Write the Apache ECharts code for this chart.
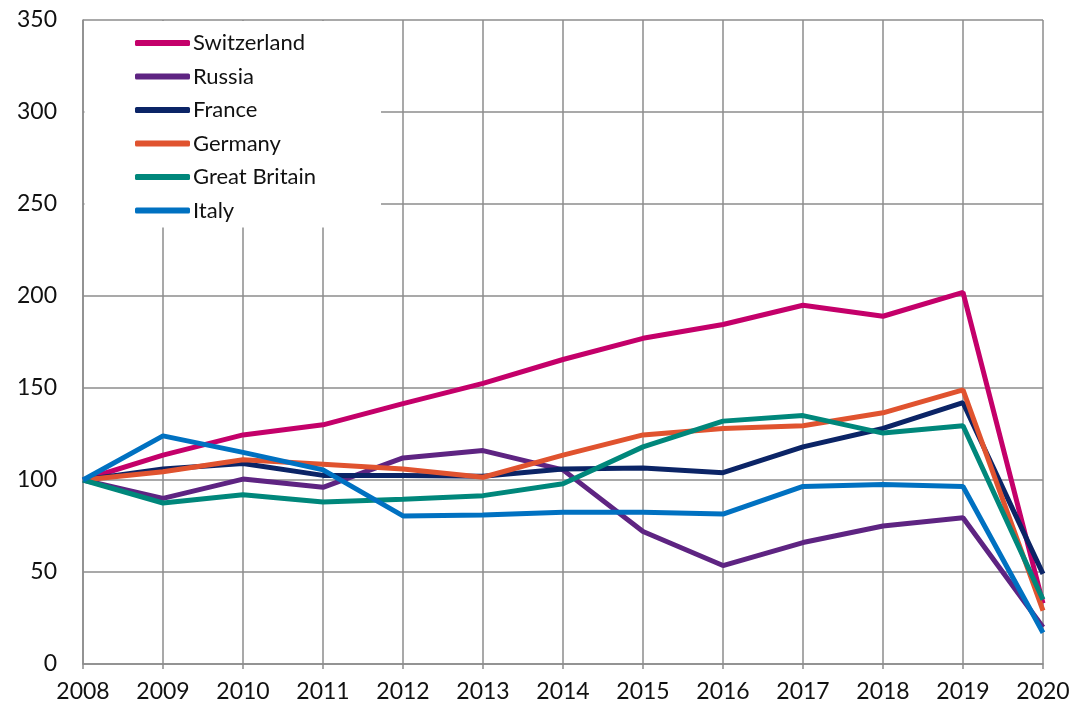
<!DOCTYPE html>
<html>
<head>
<meta charset="utf-8">
<script src="https://cdn.jsdelivr.net/npm/echarts@6/dist/echarts.min.js"></script>
<style>
html,body{margin:0;padding:0;background:#fff;}
#chart{width:1074px;height:708px;}
</style>
</head>
<body>
<div id="chart"></div>
<script>
const years = ['2008','2009','2010','2011','2012','2013','2014','2015','2016','2017','2018','2019','2020'];
const switzerland = [100, 113.5, 124.5, 130, 141.5, 152.5, 165.5, 177, 184.5, 195, 189, 202, 33];
const russia      = [100, 90, 100.5, 96, 112, 116, 105.5, 72, 53.5, 66, 75, 79.5, 20];
const france      = [100, 106, 109, 102.5, 102.5, 102, 106, 106.5, 104, 118, 128, 142, 49];
const germany     = [100, 104.5, 111, 108.5, 106, 101.5, 113.5, 124.5, 128, 129.5, 136.5, 149, 29];
const greatBritain= [100, 87.5, 92, 88, 89.5, 91.5, 98, 118, 132, 135, 125.5, 129.5, 35];
const italy       = [100, 124, 115, 105.5, 80.5, 81, 82.5, 82.5, 81.5, 96.5, 97.5, 96.5, 17];
const yTicks = [0, 50, 100, 150, 200, 250, 300, 350];

const seriesDefs = [
  {name:'Switzerland', data:switzerland, color:'#C4006A'},
  {name:'Russia', data:russia, color:'#5E2482'},
  {name:'France', data:france, color:'#0B2466'},
  {name:'Germany', data:germany, color:'#E0532F'},
  {name:'Great Britain', data:greatBritain, color:'#00877B'},
  {name:'Italy', data:italy, color:'#0071C1'}
];

const FONT = 'Lato';
const gridColor = '#8c8c8c';
const chart = echarts.init(document.getElementById('chart'), null, {renderer:'canvas'});
chart.setOption({
  animation:false,
  backgroundColor:'#ffffff',
  textStyle:{fontFamily:FONT},
  grid:{left:83, right:31, top:20, bottom:44, containLabel:false},
  legend:{
    orient:'vertical',
    left:84.5, top:21,
    backgroundColor:'#ffffff',
    padding:[10,65,5,50.5],
    itemWidth:55, itemHeight:6,
    itemGap:9.5,
    icon:'roundRect',
    textStyle:{fontFamily:FONT, fontSize:22, color:'#111', lineHeight:24, padding:[0,0,0,-2]},
    data:seriesDefs.map(s=>s.name)
  },
  xAxis:{
    type:'category',
    data:years,
    boundaryGap:false,
    axisLine:{show:true, lineStyle:{color:gridColor, width:1.5}},
    axisTick:{show:true, length:5, lineStyle:{color:gridColor, width:1.5}},
    axisLabel:{fontFamily:FONT, fontSize:23, color:'#111', margin:16, interval:0},
    splitLine:{show:true, lineStyle:{color:gridColor, width:1.5}}
  },
  yAxis:{
    type:'value',
    min:yTicks[0], max:yTicks[yTicks.length-1], interval:50,
    axisLine:{show:true, lineStyle:{color:gridColor, width:1.5}},
    axisTick:{show:false},
    axisLabel:{fontFamily:FONT, fontSize:23, color:'#111', margin:26},
    splitLine:{show:true, lineStyle:{color:gridColor, width:1.5}}
  },
  series:seriesDefs.map(s=>({
    name:s.name,
    type:'line',
    data:s.data,
    showSymbol:false,
    symbol:'none',
    lineStyle:{color:s.color, width:5},
    itemStyle:{color:s.color}
  }))
});
</script>
</body>
</html>
